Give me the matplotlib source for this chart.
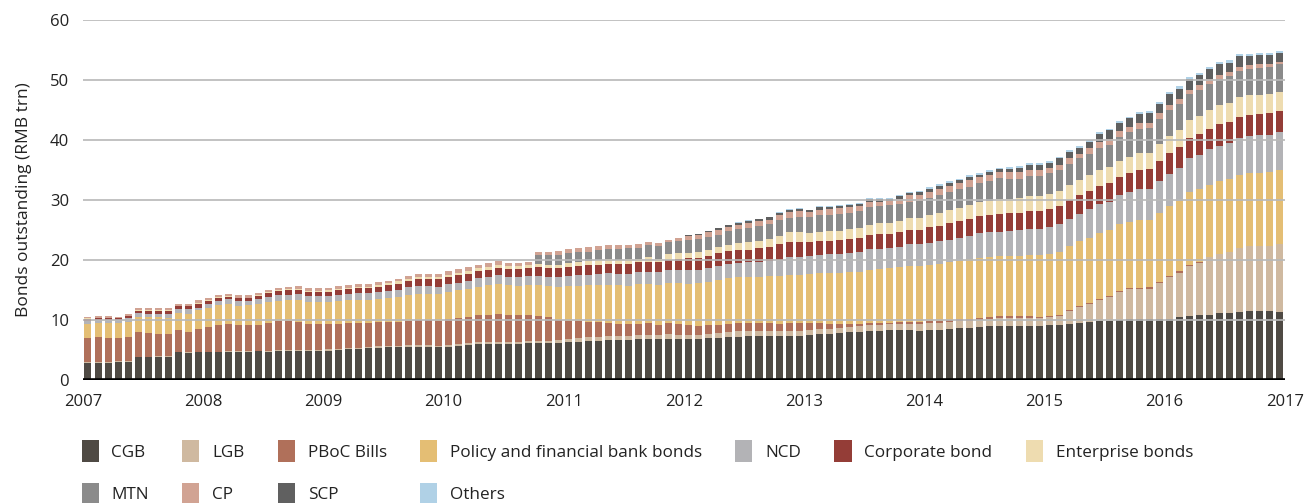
import numpy as np
import matplotlib
matplotlib.use("Agg")
import matplotlib.pyplot as plt
from matplotlib.patches import Patch

# ---- data: cumulative top of each stacked segment (RMB trn), monthly Jan-2007 .. Dec-2016 ----
years = ["2007", "2008", "2009", "2010", "2011", "2012", "2013", "2014", "2015", "2016", "2017"]

cgb_top = [2.9, 2.9, 2.9, 3.0, 3.05, 3.8, 3.8, 3.9, 3.9, 4.65, 4.55, 4.65,
           4.65, 4.65, 4.7, 4.7, 4.7, 4.8, 4.7, 4.9, 4.9, 4.9, 4.9, 4.9,
           4.9, 5.0, 5.1, 5.2, 5.35, 5.35, 5.45, 5.45, 5.55, 5.55, 5.55, 5.45,
           5.55, 5.65, 5.85, 5.95, 5.95, 6.0, 6.0, 6.0, 6.1, 6.1, 6.1, 6.1,
           6.3, 6.35, 6.5, 6.5, 6.65, 6.65, 6.65, 6.8, 6.8, 6.8, 6.9, 6.85,
           6.85, 6.85, 7.0, 7.0, 7.15, 7.15, 7.35, 7.35, 7.35, 7.35, 7.35, 7.35,
           7.5, 7.65, 7.65, 7.85, 8.0, 8.0, 8.15, 8.15, 8.35, 8.35, 8.35, 8.25,
           8.35, 8.35, 8.5, 8.65, 8.65, 8.85, 9.0, 9.0, 9.0, 9.0, 9.0, 9.0,
           9.15, 9.15, 9.35, 9.5, 9.65, 9.85, 9.85, 10.0, 10.15, 10.15, 10.15, 10.15,
           10.15, 10.5, 10.65, 10.85, 10.85, 11.15, 11.15, 11.35, 11.5, 11.5, 11.5, 11.35]

lgb_top = [3.0, 3.0, 3.0, 3.1, 3.15, 3.9, 3.9, 4.0, 4.0, 4.75, 4.65, 4.75,
           4.75, 4.75, 4.8, 4.8, 4.8, 4.9, 4.8, 5.0, 5.0, 5.0, 5.0, 5.0,
           5.1, 5.2, 5.3, 5.4, 5.55, 5.6, 5.7, 5.7, 5.8, 5.8, 5.8, 5.75,
           5.85, 5.95, 6.15, 6.3, 6.3, 6.35, 6.4, 6.4, 6.5, 6.5, 6.5, 6.75,
           6.9, 6.95, 7.1, 7.2, 7.3, 7.35, 7.35, 7.45, 7.45, 7.45, 7.6, 7.55,
           7.55, 7.55, 7.7, 7.85, 8.0, 8.1, 8.15, 8.15, 8.15, 8.15, 8.2, 8.15,
           8.35, 8.5, 8.5, 8.65, 8.8, 9.0, 9.15, 9.15, 9.35, 9.35, 9.35, 9.35,
           9.5, 9.5, 9.65, 9.85, 9.85, 10.0, 10.15, 10.35, 10.35, 10.35, 10.35, 10.35,
           10.5, 10.65, 11.5, 12.15, 12.65, 13.35, 13.85, 14.65, 15.15, 15.15, 15.25, 16.1,
           17.1, 17.85, 19.0, 19.5, 20.5, 21.05, 21.4, 22.0, 22.35, 22.35, 22.35, 22.65]

pboc_top = [7.05, 7.15, 7.05, 7.05, 7.2, 8.0, 7.85, 7.65, 7.65, 8.35, 8.0, 8.5,
            8.85, 9.15, 9.35, 9.15, 9.15, 9.15, 9.5, 9.85, 9.85, 9.65, 9.35, 9.35,
            9.35, 9.35, 9.5, 9.5, 9.5, 9.65, 9.65, 9.65, 9.85, 10.0, 10.0, 9.85,
            10.15, 10.35, 10.5, 10.85, 10.85, 11.0, 10.85, 10.85, 10.85, 10.65, 10.5, 10.0,
            9.8, 9.9, 9.65, 9.65, 9.55, 9.35, 9.35, 9.35, 9.5, 9.15, 9.5, 9.4,
            9.2, 9.05, 9.2, 9.2, 9.4, 9.55, 9.5, 9.5, 9.5, 9.35, 9.5, 9.5,
            9.5, 9.5, 9.35, 9.35, 9.35, 9.35, 9.5, 9.5, 9.5, 9.65, 9.65, 9.65,
            9.85, 9.8, 10.0, 10.15, 10.15, 10.35, 10.5, 10.65, 10.65, 10.65, 10.65, 10.55,
            10.7, 10.85, 11.65, 12.35, 12.85, 13.55, 14.05, 14.9, 15.4, 15.4, 15.45, 16.35,
            17.35, 18.1, 19.25, 19.6, 20.5, 21.05, 21.4, 22.0, 22.35, 22.35, 22.35, 22.65]

policy_top = [9.3, 9.55, 9.55, 9.55, 9.7, 10.5, 10.5, 10.5, 10.35, 11.15, 11.0, 11.6,
              12.0, 12.5, 12.65, 12.35, 12.5, 12.65, 13.0, 13.15, 13.35, 13.35, 13.0, 13.0,
              13.0, 13.15, 13.35, 13.35, 13.35, 13.5, 13.65, 13.85, 14.15, 14.35, 14.35, 14.35,
              14.65, 15.0, 15.15, 15.5, 15.85, 16.0, 15.85, 15.65, 15.85, 15.85, 15.65, 15.45,
              15.7, 15.7, 15.9, 15.9, 15.9, 15.9, 15.7, 16.05, 16.05, 15.9, 16.2, 16.15,
              16.0, 16.15, 16.35, 16.65, 17.0, 17.15, 17.15, 17.15, 17.35, 17.35, 17.5, 17.5,
              17.65, 17.85, 17.85, 17.85, 18.0, 18.0, 18.35, 18.5, 18.65, 18.85, 19.0, 19.0,
              19.15, 19.35, 19.65, 19.85, 20.15, 20.35, 20.5, 20.65, 20.65, 20.65, 20.85, 20.85,
              21.0, 21.35, 22.35, 23.15, 23.65, 24.5, 25.0, 26.0, 26.35, 26.65, 26.65, 27.85,
              29.0, 29.85, 31.35, 31.85, 32.5, 33.15, 33.5, 34.15, 34.5, 34.5, 34.65, 35.0]

ncd_top = [9.8, 9.95, 9.95, 9.95, 10.4, 11.15, 10.95, 10.95, 10.95, 11.85, 11.85, 12.0,
           12.65, 13.15, 13.5, 13.15, 13.15, 13.5, 13.85, 14.15, 14.15, 14.35, 14.0, 14.0,
           13.95, 14.15, 14.35, 14.5, 14.5, 14.65, 14.85, 15.0, 15.5, 15.65, 15.65, 15.5,
           16.0, 16.15, 16.5, 17.0, 17.15, 17.5, 17.15, 17.15, 17.35, 17.35, 17.15, 17.15,
           17.35, 17.5, 17.5, 17.65, 17.85, 17.65, 17.65, 18.0, 18.0, 18.0, 18.35, 18.35,
           18.35, 18.35, 18.65, 19.0, 19.35, 19.5, 19.65, 19.65, 19.85, 20.0, 20.5, 20.5,
           20.65, 20.85, 21.0, 21.0, 21.15, 21.35, 21.85, 21.85, 22.0, 22.15, 22.65, 22.65,
           22.85, 23.15, 23.35, 23.65, 24.0, 24.5, 24.65, 24.65, 24.85, 25.0, 25.15, 25.15,
           25.5, 26.0, 26.85, 27.65, 28.5, 29.35, 29.65, 30.85, 31.35, 31.85, 31.85, 33.2,
           34.35, 35.35, 37.0, 37.5, 38.5, 39.0, 39.5, 40.35, 40.65, 40.85, 40.85, 41.35]

corporate_top = [10.2, 10.3, 10.3, 10.3, 10.65, 11.55, 11.55, 11.55, 11.55, 12.3, 12.3, 12.7,
                 13.15, 13.6, 13.85, 13.6, 13.6, 14.0, 14.5, 14.8, 15.0, 15.05, 14.65, 14.65,
                 14.7, 15.05, 15.15, 15.35, 15.35, 15.55, 15.9, 16.0, 16.5, 16.8, 16.85, 16.85,
                 17.15, 17.5, 17.65, 18.15, 18.35, 18.65, 18.5, 18.5, 18.65, 18.85, 18.65, 18.65,
                 18.9, 19.05, 19.2, 19.2, 19.4, 19.4, 19.4, 19.65, 19.65, 19.65, 20.0, 20.15,
                 20.35, 20.35, 20.65, 21.15, 21.5, 21.65, 21.65, 22.0, 22.15, 22.65, 23.0, 23.0,
                 23.0, 23.15, 23.15, 23.35, 23.5, 23.65, 24.15, 24.35, 24.35, 24.65, 25.0, 25.0,
                 25.5, 25.65, 26.15, 26.5, 26.85, 27.35, 27.5, 27.65, 27.85, 27.85, 28.15, 28.15,
                 28.5, 29.0, 30.0, 30.85, 31.5, 32.35, 32.85, 33.85, 34.5, 35.0, 35.15, 36.5,
                 37.85, 38.85, 40.35, 41.0, 41.85, 42.65, 43.0, 43.85, 44.15, 44.35, 44.5, 44.85]

enterprise_top = [10.3, 10.4, 10.4, 10.4, 10.75, 11.65, 11.65, 11.65, 11.65, 12.4, 12.4, 12.85,
                  13.35, 13.8, 14.0, 13.75, 13.75, 14.15, 14.65, 14.95, 15.15, 15.2, 14.8, 14.8,
                  14.95, 15.2, 15.4, 15.5, 15.5, 15.9, 16.15, 16.45, 16.85, 17.2, 17.2, 17.2,
                  17.5, 17.85, 18.15, 18.65, 18.9, 19.15, 19.0, 19.0, 19.15, 19.35, 19.15, 19.15,
                  19.5, 19.65, 19.85, 20.0, 20.15, 20.0, 20.15, 20.15, 20.5, 20.15, 21.0, 21.15,
                  21.15, 21.35, 21.65, 22.15, 22.5, 22.85, 23.0, 23.15, 23.5, 24.0, 24.65, 24.65,
                  24.5, 24.65, 24.85, 24.85, 25.15, 25.35, 25.85, 26.15, 26.15, 26.5, 27.0, 27.0,
                  27.5, 27.85, 28.35, 28.65, 29.15, 29.65, 29.85, 30.15, 30.15, 30.35, 30.65, 30.65,
                  31.0, 31.5, 32.5, 33.35, 34.15, 35.0, 35.5, 36.5, 37.15, 37.85, 37.85, 39.35,
                  40.65, 41.65, 43.35, 44.0, 45.0, 45.85, 46.15, 47.15, 47.5, 47.5, 47.65, 48.0]

mtn_top = [10.3, 10.4, 10.4, 10.4, 10.75, 11.65, 11.65, 11.65, 11.65, 12.4, 12.4, 12.85,
           13.35, 13.8, 14.0, 13.75, 13.75, 14.15, 14.65, 14.95, 15.15, 15.2, 14.8, 14.8,
           14.95, 15.2, 15.4, 15.5, 15.5, 15.9, 16.15, 16.45, 16.85, 17.2, 17.2, 17.2,
           17.5, 17.85, 18.15, 18.65, 18.9, 19.15, 19.0, 19.0, 19.15, 20.85, 20.85, 20.85,
           21.15, 21.35, 21.35, 21.65, 21.85, 21.85, 22.0, 22.0, 22.5, 22.35, 23.0, 23.15,
           23.35, 23.5, 23.85, 24.15, 24.85, 25.15, 25.35, 25.65, 26.0, 26.65, 27.0, 27.15,
           27.15, 27.5, 27.5, 27.65, 27.85, 28.15, 28.85, 29.0, 29.15, 29.35, 29.65, 29.85,
           30.35, 30.85, 31.35, 31.85, 32.15, 32.85, 33.15, 33.65, 33.5, 33.5, 34.0, 34.0,
           34.5, 35.0, 36.0, 37.0, 37.65, 38.65, 39.15, 40.5, 41.35, 41.85, 42.0, 43.5,
           45.0, 46.0, 47.65, 48.35, 49.35, 50.15, 50.65, 51.5, 51.85, 52.0, 52.15, 52.65]

cp_top = [10.45, 10.65, 10.65, 10.55, 10.95, 11.95, 11.95, 11.95, 11.95, 12.6, 12.6, 13.3,
          13.65, 14.15, 14.35, 14.15, 14.15, 14.55, 15.05, 15.3, 15.5, 15.6, 15.35, 15.35,
          15.35, 15.65, 15.85, 16.0, 16.0, 16.35, 16.5, 16.8, 17.35, 17.65, 17.65, 17.65,
          18.15, 18.5, 18.85, 19.2, 19.45, 19.85, 19.45, 19.45, 19.65, 21.35, 21.35, 21.5,
          21.85, 22.0, 22.15, 22.35, 22.5, 22.5, 22.5, 22.65, 23.0, 22.85, 23.35, 23.65,
          24.0, 24.15, 24.65, 25.0, 25.5, 25.85, 26.15, 26.5, 26.65, 27.5, 28.0, 28.15,
          28.0, 28.35, 28.5, 28.65, 28.85, 29.0, 29.65, 29.65, 29.85, 30.15, 30.85, 30.85,
          31.35, 31.85, 32.35, 32.85, 33.35, 33.85, 34.15, 34.65, 34.65, 34.65, 35.0, 35.0,
          35.35, 35.85, 37.0, 37.65, 38.65, 39.65, 40.15, 41.5, 42.15, 42.85, 42.85, 44.5,
          45.85, 46.85, 48.35, 49.15, 50.15, 50.85, 51.35, 52.15, 52.5, 52.65, 52.65, 53.0]

scp_top = [10.45, 10.65, 10.65, 10.55, 10.95, 11.95, 11.95, 11.95, 11.95, 12.6, 12.6, 13.3,
           13.65, 14.15, 14.35, 14.15, 14.15, 14.55, 15.05, 15.3, 15.5, 15.6, 15.35, 15.35,
           15.35, 15.65, 15.85, 16.0, 16.0, 16.35, 16.5, 16.8, 17.35, 17.65, 17.65, 17.65,
           18.15, 18.5, 18.85, 19.2, 19.45, 19.85, 19.45, 19.45, 19.65, 21.35, 21.35, 21.5,
           21.85, 22.0, 22.15, 22.35, 22.5, 22.5, 22.5, 22.65, 23.0, 22.85, 23.35, 23.7,
           24.15, 24.35, 24.85, 25.3, 25.85, 26.15, 26.5, 26.85, 27.15, 27.85, 28.35, 28.5,
           28.35, 28.85, 28.85, 29.0, 29.15, 29.35, 30.15, 30.15, 30.15, 30.65, 31.15, 31.35,
           31.85, 32.35, 32.85, 33.35, 33.85, 34.15, 34.65, 35.15, 35.15, 35.35, 35.85, 35.85,
           36.15, 37.0, 38.0, 38.65, 39.65, 41.0, 41.65, 42.85, 43.65, 44.35, 44.5, 46.0,
           47.65, 48.5, 50.15, 50.85, 51.85, 52.65, 52.85, 54.0, 54.0, 54.15, 54.15, 54.5]

others_top = [10.45, 10.65, 10.65, 10.55, 10.95, 11.95, 11.95, 11.95, 11.95, 12.6, 12.6, 13.3,
              13.65, 14.15, 14.35, 14.15, 14.15, 14.55, 15.05, 15.3, 15.5, 15.6, 15.35, 15.35,
              15.35, 15.65, 15.85, 16.0, 16.0, 16.35, 16.5, 16.8, 17.35, 17.65, 17.65, 17.65,
              18.15, 18.5, 18.85, 19.2, 19.45, 19.85, 19.45, 19.45, 19.65, 21.35, 21.35, 21.5,
              21.85, 22.0, 22.15, 22.35, 22.5, 22.5, 22.5, 22.65, 23.0, 22.85, 23.35, 23.7,
              24.15, 24.35, 24.85, 25.3, 25.85, 26.35, 26.65, 26.85, 27.15, 28.0, 28.5, 28.65,
              28.4, 29.0, 29.0, 29.1, 29.35, 29.5, 30.35, 30.35, 30.35, 30.85, 31.4, 31.5,
              32.15, 32.65, 33.15, 33.5, 34.15, 34.5, 35.0, 35.35, 35.5, 35.65, 36.15, 36.15,
              36.5, 37.15, 38.35, 39.0, 40.0, 41.35, 41.85, 43.15, 43.85, 44.65, 44.85, 46.4,
              48.0, 49.0, 50.5, 51.15, 52.15, 53.0, 53.35, 54.35, 54.35, 54.5, 54.5, 54.85]

series_names = ["CGB", "LGB", "PBoC Bills", "Policy and financial bank bonds", "NCD",
                "Corporate bond", "Enterprise bonds", "MTN", "CP", "SCP", "Others"]
series_colors = ["#4f4a44", "#cfb9a0", "#b0705a", "#e4be74", "#b3b3b6",
                 "#943d37", "#eedcb0", "#8b8b8b", "#d1a393", "#606060", "#b0d1e6"]
tops = [cgb_top, lgb_top, pboc_top, policy_top, ncd_top, corporate_top,
        enterprise_top, mtn_top, cp_top, scp_top, others_top]

# ---- figure ----
plt.rcParams['font.family'] = ['Open Sans', 'DejaVu Sans']
fig = plt.figure(figsize=(13.11, 5.03), dpi=100)
ax = fig.add_axes([0.0633, 0.2445, 0.9167, 0.7157])

n = len(cgb_top)
x = np.arange(n) + 0.5
prev = np.zeros(n)
for name, col, top in zip(series_names, series_colors, tops):
    top = np.asarray(top, dtype=float)
    h = np.clip(top - prev, 0, None)
    ax.bar(x, h, bottom=prev, width=0.7, color=col, linewidth=0, zorder=2)
    prev = np.maximum(prev, top)

ax.set_xlim(0, n)
ax.set_ylim(0, 60)
ax.set_xticks(np.arange(0, n + 1, 12))
ax.set_xticklabels(years)
ax.set_yticks(np.arange(0, 61, 10))
for yv in range(10, 61, 10):
    ax.axhline(yv, color="#b8b8b8", lw=1.2, zorder=3)
ax.axhline(0, color="black", lw=2.6, zorder=4)
for s in ax.spines.values():
    s.set_visible(False)
ax.tick_params(axis="both", length=0, labelsize=12, colors="#222222")
ax.tick_params(axis="x", pad=10)
ax.tick_params(axis="y", pad=10)
ax.set_ylabel("Bonds outstanding (RMB trn)", fontsize=12.5, color="#222222", labelpad=13)

# legend (row-major order via column filling)
order = [0, 7, 1, 8, 2, 9, 3, 10, 4, 5, 6]
handles = [Patch(facecolor=series_colors[i], edgecolor="none") for i in order]
labels = [series_names[i] for i in order]
fig.legend(handles, labels, ncol=7, loc="upper left", bbox_to_anchor=(0.0505, 0.155),
           frameon=False, fontsize=12.3, handlelength=1.0, handleheight=1.55,
           handletextpad=0.75, columnspacing=1.95, labelspacing=1.25, labelcolor="#222222")

fig.savefig("out.png", dpi=100)
